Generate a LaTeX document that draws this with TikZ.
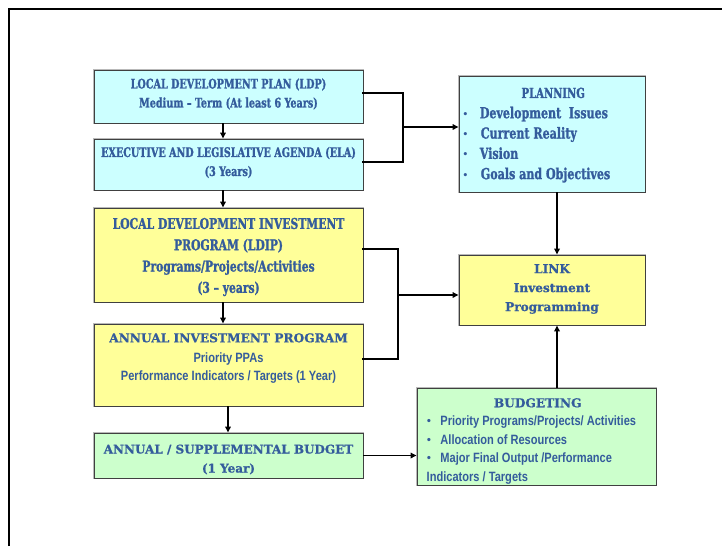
\documentclass[tikz,border=0pt]{standalone}
\usepackage{fontspec}
\usetikzlibrary{arrows.meta,calc}
\setmainfont{Liberation Serif}
\newfontfamily\slabcond{DejaVu Serif Condensed}[FakeStretch=0.81, BoldFeatures={FakeBold=1.2}]
\newfontfamily\heavyserif{DejaVu Serif}[BoldFeatures={FakeBold=0.8}]
\newfontfamily\narrowsans{Liberation Sans}[FakeStretch=0.82]
\definecolor{txtblue}{RGB}{52,92,156}
\definecolor{boxcyan}{RGB}{204,255,255}
\definecolor{boxyellow}{RGB}{255,255,153}
\definecolor{boxgreen}{RGB}{204,255,204}
\tikzset{
  box/.style={rectangle, inner sep=0pt,
    preaction={draw=gray!55, line width=2.6pt},
    draw=black!75, line width=0.9pt},
  cyanbox/.style={box, fill=boxcyan},
  yellowbox/.style={box, fill=boxyellow},
  greenbox/.style={box, fill=boxgreen},
  txt/.style={text=txtblue, align=center, inner sep=0pt},
  listtxt/.style={text=txtblue, align=left, inner sep=0pt, anchor=north west},
  bracket/.style={line width=2.6pt, line join=miter, line cap=rect},
  flow/.style={line width=1.5pt, -{Triangle[length=6pt,width=5.5pt]}},
}
\newcommand{\hd}[1]{{\slabcond\bfseries #1}}
\newcommand{\hv}[1]{{\heavyserif\bfseries #1}}
\newcommand{\ns}[1]{{\narrowsans\bfseries #1}}
\begin{document}
\begin{tikzpicture}[x=1pt,y=-1pt]
  \useasboundingbox (0,0) rectangle (722,546);
  % page frame
  \draw[line width=1.6pt] (9,546) -- (9,9) -- (722,9);

  % left column boxes
  \node[cyanbox,   minimum width=269, minimum height=53] (ldp)  at (228.5,96.5) {};
  \node[cyanbox,   minimum width=269, minimum height=51] (ela)  at (228.5,164.5) {};
  \node[yellowbox, minimum width=269, minimum height=94] (ldip) at (228.5,255) {};
  \node[yellowbox, minimum width=269, minimum height=82] (aip)  at (228.5,365) {};
  \node[greenbox,  minimum width=269, minimum height=45] (bud)  at (228.5,455.5) {};

  % left column texts
  \node[txt, font=\fontsize{13.2}{19}\selectfont] (ldptext) at ([yshift=2.5pt]ldp.center)
    {\hd{LOCAL DEVELOPMENT PLAN (LDP)}\\\hd{Medium – Term (At least 6 Years)}};
  \node[txt, font=\fontsize{13.2}{19}\selectfont] (elatext) at ([yshift=2pt]ela.center)
    {\hd{EXECUTIVE AND LEGISLATIVE AGENDA (ELA)}\\\hd{(3 Years)}};
  \node[txt, font=\fontsize{14.8}{21.3}\selectfont] (ldiptext) at ([yshift=-2pt]ldip.center)
    {\hd{LOCAL DEVELOPMENT INVESTMENT}\\\hd{PROGRAM (LDIP)}\\\hd{Programs/Projects/Activities}\\\hd{(3 – years)}};
  \node[txt, font=\fontsize{12.2}{19}\selectfont, anchor=north] (aiptext) at ([yshift=-9.5pt]aip.north)
    {\hv{ANNUAL INVESTMENT PROGRAM}\\[1pt]{\fontsize{13.5}{18}\selectfont\ns{Priority PPAs}}\\[-0.5pt]{\fontsize{13.5}{18}\selectfont\ns{Performance Indicators / Targets (1 Year)}}};
  \node[txt, font=\fontsize{12}{19}\selectfont] (budtext) at ([yshift=-4pt]bud.center)
    {\hv{ANNUAL / SUPPLEMENTAL BUDGET}\\\hv{(1 Year)}};

  % right column boxes
  \node[cyanbox,   minimum width=186, minimum height=116] (plan) at (552,134) {};
  \node[yellowbox, minimum width=186, minimum height=70]  (link) at (552,290) {};
  \node[greenbox,  minimum width=239, minimum height=97]  (budg) at (536.5,436.5) {};

  % right column texts
  \node[listtxt, font=\fontsize{15.2}{20.3}\selectfont] (plantext) at (463,87.5)
    {\makebox[180pt]{\fontsize{13.8}{14}\selectfont\hd{PLANNING}}\\
     {\fontsize{13.2}{14}\selectfont\textbullet}\hspace{12pt}\hd{Development\ \ Issues}\\
     {\fontsize{13.2}{14}\selectfont\textbullet}\hspace{13pt}\hd{Current Reality}\\
     {\fontsize{13.2}{14}\selectfont\textbullet}\hspace{12pt}\hd{Vision}\\
     {\fontsize{13.2}{14}\selectfont\textbullet}\hspace{13pt}\hd{Goals and Objectives}};
  \node[txt, font=\fontsize{12.1}{19}\selectfont] (linktext) at ([yshift=1pt]link.center)
    {\hv{LINK}\\\hv{Investment}\\\hv{Programming}};
  \node[listtxt, font=\fontsize{13.5}{18.5}\selectfont] (budgtext) at (426.5,398)
    {\makebox[222pt]{\fontsize{12.2}{14}\selectfont\hv{BUDGETING}}\\
     \textbullet\hspace{9pt}\ns{Priority Programs/Projects/ Activities}\\
     \textbullet\hspace{9pt}\ns{Allocation of Resources}\\
     \textbullet\hspace{9pt}\ns{Major Final Output /Performance}\\
     \ns{Indicators / Targets}};

  % vertical flow in the left column
  \coordinate (c1) at (223,0);
  \coordinate (c2) at (228,0);
  \draw[flow] (ldp.south -| c1) -- (ela.north -| c1);
  \draw[flow] (ela.south -| c1) -- (ldip.north -| c1);
  \draw[flow] (ldip.south -| c1) -- (aip.north -| c1);
  \draw[flow] (aip.south -| c2) -- (bud.north -| c2);

  % bracket joining LDP and ELA into PLANNING
  \coordinate (b1) at (403,127);
  \draw[bracket] ([yshift=3.5pt]ldp.east) -| (b1) |- ([yshift=2.5pt]ela.east);
  \draw[flow] (b1) -- (plan.west |- b1);

  % bracket joining LDIP and AIP into LINK
  \coordinate (b2) at (398,295);
  \draw[bracket] ([yshift=6pt]ldip.east) -| (b2) |- ([yshift=6pt]aip.east);
  \draw[flow] (b2) -- (link.west |- b2);

  % right column links
  \coordinate (c3) at (557,0);
  \draw[flow] (plan.south -| c3) -- (link.north -| c3);
  \draw[flow] (budg.north -| c3) -- (link.south -| c3);
  \draw[flow] (bud.east) -- (budg.west |- bud.east);
\end{tikzpicture}
\end{document}
